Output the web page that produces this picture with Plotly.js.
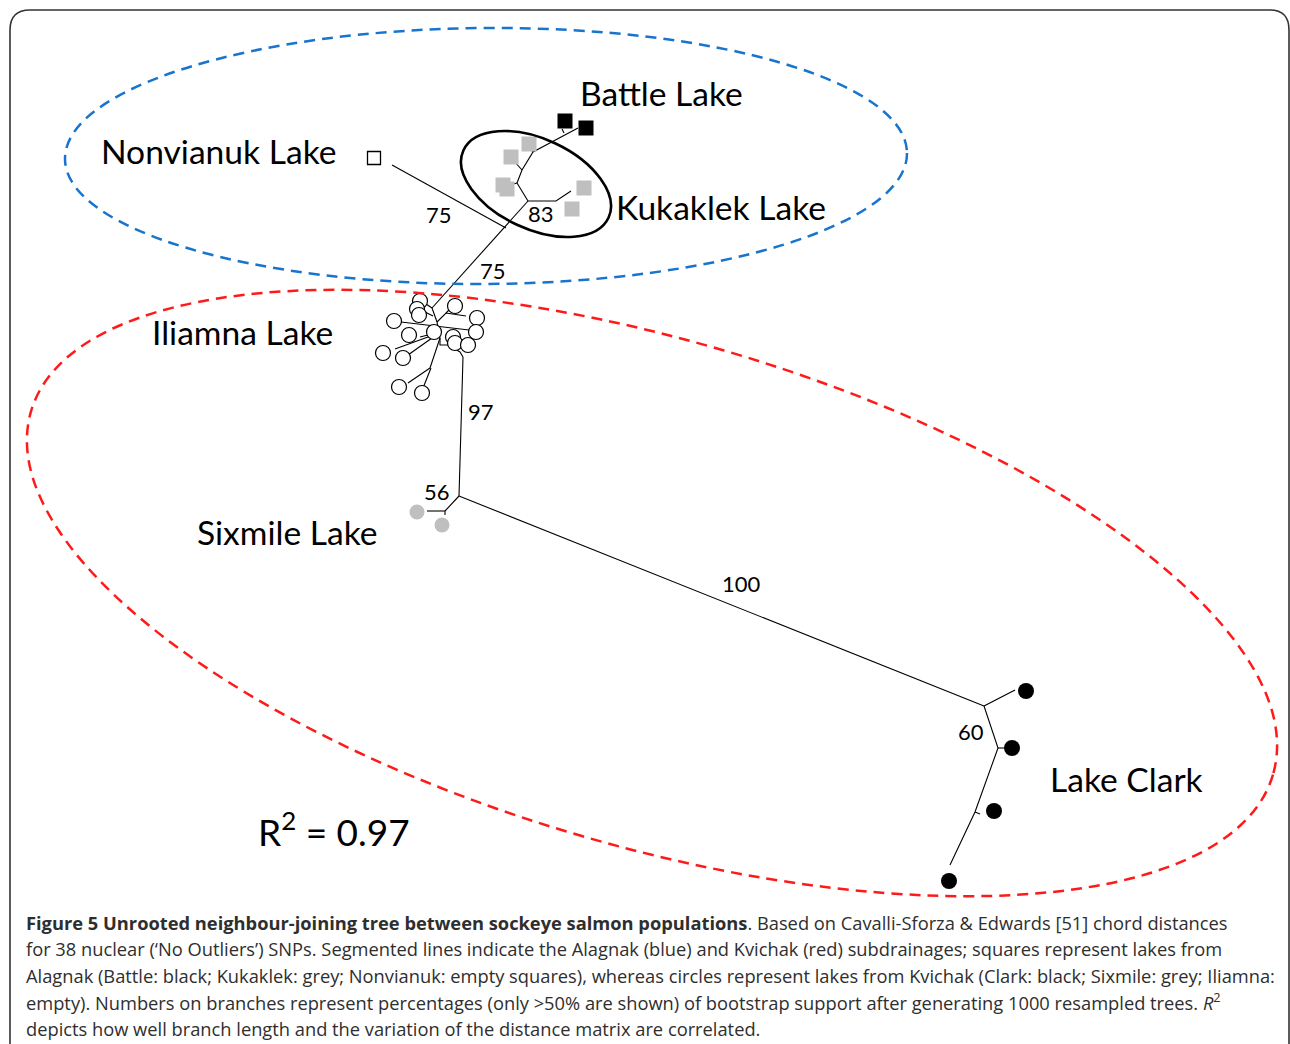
<!DOCTYPE html>
<html>
<head>
<meta charset="utf-8">
<script src="https://cdn.plot.ly/plotly-3.0.1.min.js"></script>
<style>html,body{margin:0;padding:0;background:#fff;}#chart{width:1290px;height:1044px;}</style>
</head>
<body>
<div id="chart"></div>
<script>
// ---- Data (page pixel units) ----
const nonvianukX = [374];
const nonvianukY = [158];
const battleX = [565, 586];
const battleY = [121, 128];
const kukaklekX = [529, 511, 503, 507, 584, 572];
const kukaklekY = [144, 157, 185, 189, 188, 209];
const iliamnaX = [420, 417, 419, 455, 394, 477, 434, 409, 476, 453, 455, 468, 383, 403, 399, 422];
const iliamnaY = [301, 309, 315, 306, 321, 318, 332, 335, 332, 337, 343, 345, 353, 358, 387, 393];
const sixmileX = [417, 442];
const sixmileY = [512, 525];
const clarkX = [1026, 1012, 994, 949];
const clarkY = [691, 748, 811, 881];

// tree branches as polylines (null separates branches)
const branchX = [
  392, 506, null,
  528, 432, null,
  528, 556, 571, null,
  528, 517, 522, 533, 578, null,
  564, 562, null,
  517, 510, null,
  522, 514, null,
  533, 531, null,
  432, 426, null,
  432, 437, 440, null,
  425, 433, null,
  437, 446, 466, null,
  446, 449, null,
  401, 469, null,
  420, 428, null,
  395, 428, null,
  408, 432, null,
  440, 430, null,
  430, 408, null,
  431, 423, null,
  440, 440, 448, 460, 463, null,
  463, 459, null,
  459, 445, null,
  445, 427, null,
  445, 445, null,
  459, 984, null,
  984, 1015, null,
  984, 998, 975, 950, null,
  998, 1004, null,
  975, 980
];
const branchY = [
  165, 228, null,
  201, 308, null,
  201, 201, 191, null,
  201, 183, 170, 152, 128, null,
  133, 129, null,
  183, 185, null,
  170, 161, null,
  152, 149, null,
  308, 304, null,
  308, 322, 338, null,
  312, 316, null,
  322, 313, 316, null,
  313, 310, null,
  322, 330, null,
  337, 335, null,
  349, 337, null,
  355, 338, null,
  338, 368, null,
  368, 383, null,
  368, 388, null,
  338, 345, 345, 352, 357, null,
  357, 496, null,
  496, 511, null,
  511, 511, null,
  511, 515, null,
  496, 706, null,
  706, 690, null,
  706, 748, 812, 865, null,
  748, 748, null,
  812, 814
];

const bootstrapText = ['75', '83', '75', '97', '56', '100', '60'];
const bootstrapX = [439, 541, 493, 481, 437, 741, 971];
const bootstrapY = [214, 213, 270, 411, 491, 583, 731];

const lakeNames = ['Battle Lake', 'Nonvianuk Lake', 'Kukaklek Lake', 'Iliamna Lake', 'Sixmile Lake', 'Lake Clark'];
const lakeLabelX = [578, 99, 614, 150, 195, 1048];
const lakeLabelY = [93, 151, 207, 332, 532, 779];

const captionLines = [
  '<b>Figure 5 Unrooted neighbour-joining tree between sockeye salmon populations</b>. Based on Cavalli-Sforza &amp; Edwards [51] chord distances',
  'for 38 nuclear (\u2018No Outliers\u2019) SNPs. Segmented lines indicate the Alagnak (blue) and Kvichak (red) subdrainages; squares represent lakes from',
  'Alagnak (Battle: black; Kukaklek: grey; Nonvianuk: empty squares), whereas circles represent lakes from Kvichak (Clark: black; Sixmile: grey; Iliamna:',
  'empty). Numbers on branches represent percentages (only &gt;50% are shown) of bootstrap support after generating 1000 resampled trees. <i>R</i><sup>2</sup>',
  'depicts how well branch length and the variation of the distance matrix are correlated.'
];
const captionY = [922, 948, 975, 1001, 1028];

// ---- helpers ----
function ellipsePath(cx, cy, a, b, deg) {
  const t = deg * Math.PI / 180, k = 0.5523;
  const ux = Math.cos(t), uy = Math.sin(t), vx = -Math.sin(t), vy = Math.cos(t);
  const P = (p, q) => [cx + p * a * ux + q * b * vx, cy + p * a * uy + q * b * vy];
  const pts = [
    [P(1, 0), P(1, k), P(k, 1), P(0, 1)],
    [P(0, 1), P(-k, 1), P(-1, k), P(-1, 0)],
    [P(-1, 0), P(-1, -k), P(-k, -1), P(0, -1)],
    [P(0, -1), P(k, -1), P(1, -k), P(1, 0)]
  ];
  const f = p => p[0].toFixed(1) + ',' + p[1].toFixed(1);
  let d = 'M' + f(pts[0][0]);
  pts.forEach(s => { d += ' C' + f(s[1]) + ' ' + f(s[2]) + ' ' + f(s[3]); });
  return d + ' Z';
}

const LABEL_FONT = 'Lato, Open Sans, sans-serif';

const traces = [
  {x: branchX, y: branchY, mode: 'lines', type: 'scatter', line: {color: '#000', width: 1.1}, hoverinfo: 'skip', connectgaps: false},
  {x: nonvianukX, y: nonvianukY, mode: 'markers', type: 'scatter', marker: {symbol: 'square', size: 13, color: '#fff', line: {color: '#000', width: 1.3}}},
  {x: battleX, y: battleY, mode: 'markers', type: 'scatter', marker: {symbol: 'square', size: 15, color: '#000'}},
  {x: kukaklekX, y: kukaklekY, mode: 'markers', type: 'scatter', marker: {symbol: 'square', size: 15, color: '#bfbfbf'}},
  {x: iliamnaX, y: iliamnaY, mode: 'markers', type: 'scatter', marker: {symbol: 'circle', size: 15, color: '#fff', line: {color: '#000', width: 1.2}}},
  {x: sixmileX, y: sixmileY, mode: 'markers', type: 'scatter', marker: {symbol: 'circle', size: 15, color: '#bfbfbf'}},
  {x: clarkX, y: clarkY, mode: 'markers', type: 'scatter', marker: {symbol: 'circle', size: 16, color: '#000'}}
];

const annotations = [];
lakeNames.forEach((n, i) => annotations.push({
  x: lakeLabelX[i], y: lakeLabelY[i], text: n, xanchor: 'left', yanchor: 'middle', showarrow: false,
  font: {family: LABEL_FONT, size: 33.6, color: '#000'}
}));
bootstrapText.forEach((t, i) => annotations.push({
  x: bootstrapX[i], y: bootstrapY[i], text: t, xanchor: 'center', yanchor: 'middle', showarrow: false,
  font: {family: LABEL_FONT, size: 22, color: '#000'}
}));
annotations.push({
  x: 256, y: 829, text: 'R<sup>2</sup> = 0.97', xanchor: 'left', yanchor: 'middle', showarrow: false,
  font: {family: LABEL_FONT, size: 37, color: '#000'}
});
captionLines.forEach((t, i) => annotations.push({
  x: 24, y: captionY[i], text: t, xanchor: 'left', yanchor: 'middle', showarrow: false,
  font: {family: 'Open Sans, sans-serif', size: 18.3, color: '#2e2e2e'}
}));

const shapes = [
  {type: 'path', xref: 'x', yref: 'y', path: 'M10,1050 L10,30 Q10,10 30,10 L1270,10 Q1289,10 1289,30 L1289,1050',
   line: {color: '#333', width: 1.6}, layer: 'below'},
  {type: 'path', xref: 'x', yref: 'y', path: ellipsePath(486, 156, 421, 128, -0.4),
   line: {color: '#1874cd', width: 2.5, dash: '11px,7px'}},
  {type: 'path', xref: 'x', yref: 'y', path: ellipsePath(652, 593, 647, 253, 16.3),
   line: {color: '#ff1a1a', width: 2.5, dash: '11px,7px'}},
  {type: 'path', xref: 'x', yref: 'y', path: ellipsePath(536, 184, 80, 45, 25),
   line: {color: '#000', width: 2.6}}
];

const layout = {
  width: 1290, height: 1044,
  margin: {l: 0, r: 0, t: 0, b: 0, pad: 0},
  paper_bgcolor: '#fff', plot_bgcolor: '#fff',
  showlegend: false,
  xaxis: {range: [0, 1290], visible: false, fixedrange: true},
  yaxis: {range: [1044, 0], visible: false, fixedrange: true},
  shapes: shapes,
  annotations: annotations
};

Plotly.newPlot('chart', traces, layout, {staticPlot: true, displayModeBar: false});
</script>
</body>
</html>
